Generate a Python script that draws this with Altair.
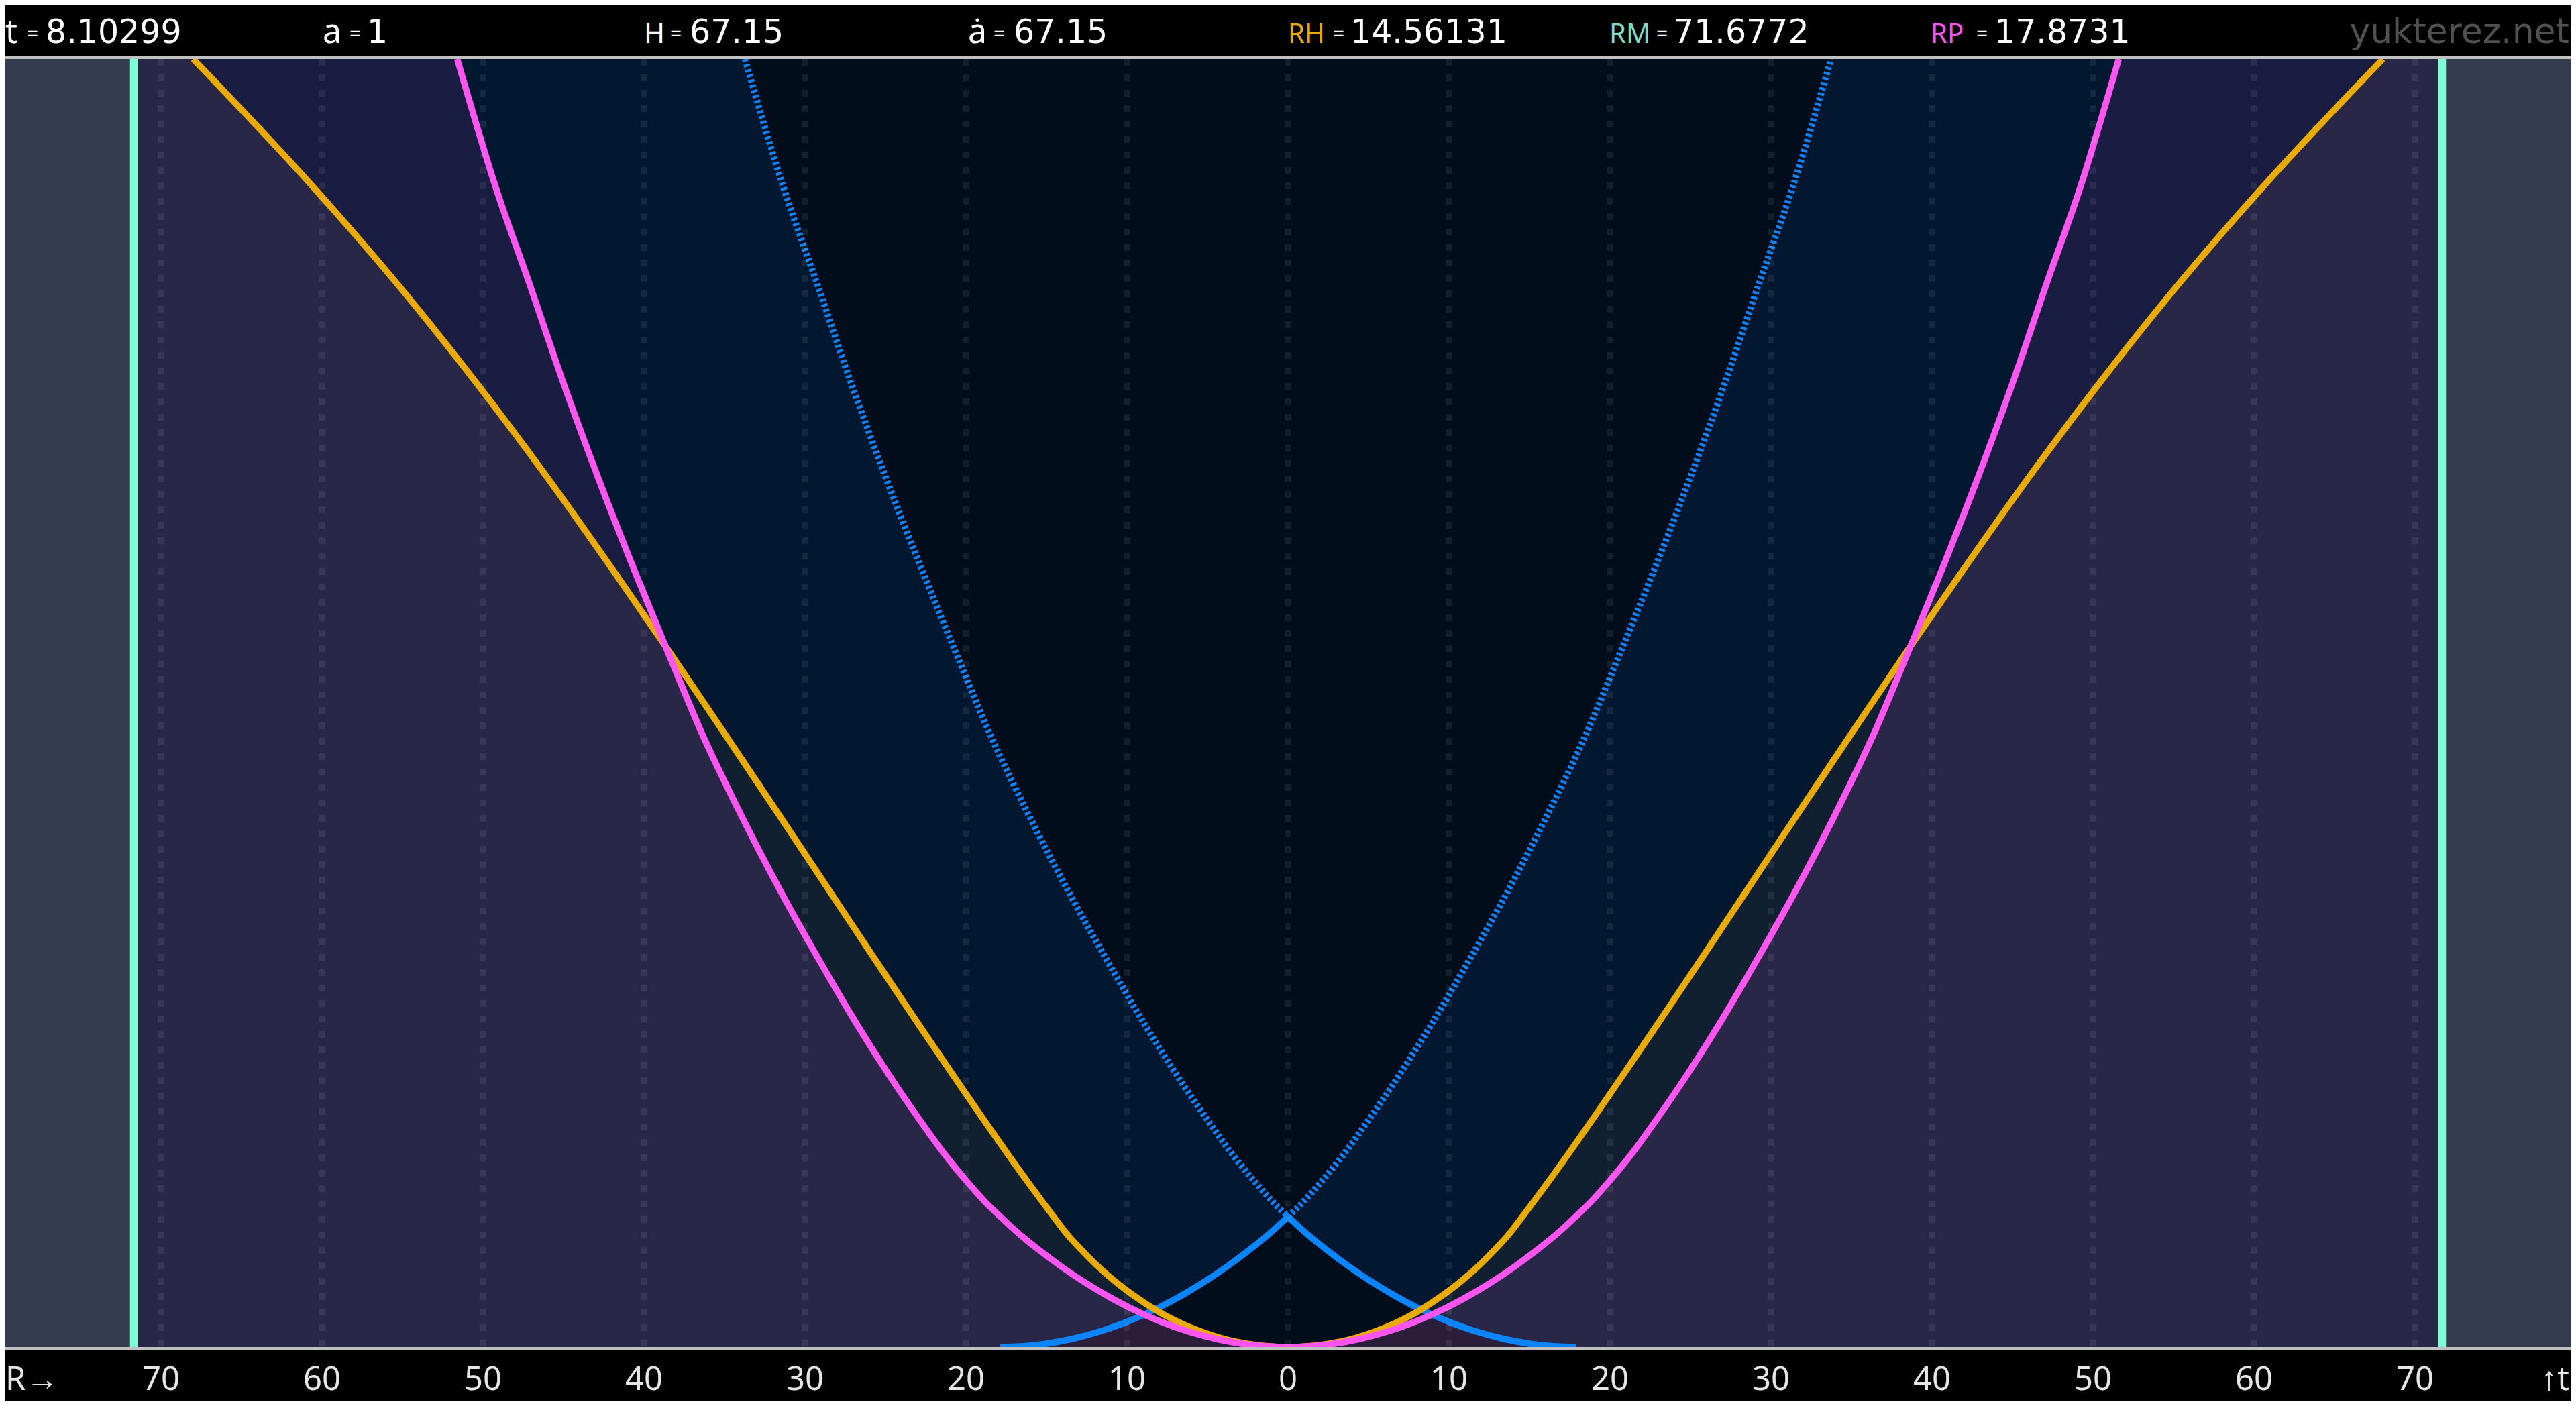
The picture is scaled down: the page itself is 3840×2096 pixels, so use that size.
import altair as alt
import pandas as pd

# ---------------- data ----------------
# time t (vertical) and comoving radii R (horizontal), same units on both axes
T = [0, 0.05, 0.2, 0.5, 1, 1.5, 2, 3, 4, 5, 6, 7, 8.1, 9, 10, 12, 14, 17, 20, 24,
     28, 33, 38, 43, 48, 54, 60, 66, 72, 80]
# particle horizon (magenta)
R_P = [0, 1.41, 2.82, 4.45, 6.3, 7.72, 8.91, 10.91, 12.6, 14.09, 15.43, 16.67, 17.87, 18.8, 19.7,
       21.35, 22.8, 24.85, 26.75, 29.1, 31.35, 33.95, 36.35, 38.45, 40.5, 42.85, 45.05, 47.1, 49.2, 51.6]
# Hubble radius (orange)
R_H = [0, 1.25, 2.5, 3.95, 5.5, 6.7, 7.7, 9.3, 10.65, 11.8, 12.8, 13.72, 14.56, 15.24, 15.98,
       17.42, 18.82, 20.88, 22.92, 25.6, 28.26, 31.58, 34.93, 38.3, 41.75, 46.0, 50.5, 55.3, 60.5, 68.0]
# light cone (blue): solid below t0, dotted above
R_L = [17.87, 16.46, 15.05, 13.42, 11.57, 10.15, 8.96, 6.96, 5.27, 3.78, 2.44, 1.2, 0, 0.93, 1.83,
       3.48, 4.93, 6.98, 8.88, 11.23, 13.48, 16.08, 18.48, 20.58, 22.63, 24.98, 27.18, 29.23, 31.33, 33.73]
T0 = 8.10299
R_M = 71.6772
TICK_VALUES = [-70, -60, -50, -40, -30, -20, -10, 0, 10, 20, 30, 40, 50, 60, 70]
GRID_VALUES = [-70, -60, -50, -40, -30, -20, -10, 0, 10, 20, 30, 40, 50, 60, 70]

LABEL_NAMES = ["t", "a", "H", "ȧ", "RH", "RM", "RP"]
LABEL_VALUES = ["8.10299", "1", "67.15", "67.15", "14.56131", "71.6772", "17.8731"]

# ---------------- layout / style ----------------
LABEL_COLORS = ["#ffffff", "#ffffff", "#ffffff", "#ffffff", "#eaab00", "#80dcc0", "#ff55ee"]
NAME_X = [4, 481, 960, 1443, 1920, 2399, 2878]
EQ_X = [40, 521, 999, 1481, 1987, 2469, 2946]
VAL_X = [68, 547, 1028, 1511, 2013, 2494, 2973]
NAME_SIZE = [50, 50, 42, 50, 40, 40, 40]
OFF = 8
W, H = 3824, 1920
FONT = "Noto Sans"
HEAD_FONT = "DejaVu Sans"
HEAD_Y = -24          # header baseline, relative to plot top
FOOT_Y = H + 64       # footer baseline, relative to plot top

XS = alt.Scale(domain=[-(1920 - OFF) / 24, (1920 - OFF) / 24], nice=False, zero=False)
YS = alt.Scale(domain=[0, 80], nice=False, zero=False)

C_SLATE = "#323c4e"
C_PURPLE = "#292747"
C_RED = "#2b1e3a"
C_NAVY = "#1a1d42"
C_TEAL = "#112030"
C_INNER = "#011830"
C_DARK = "#010d1a"
C_ORANGE = "#eaab00"
C_MAGENTA = "#ff55f0"
C_BLUE = "#0b84ff"
C_CYAN = "#7fffd4"
LW = 9.5

# ---------------- tables ----------------
adf = pd.DataFrame({"t": T, "rp": R_P, "rh": R_H, "rl": R_L})
adf["inner"] = adf[["rp", "rh"]].min(axis=1)
adf["dark"] = adf[["rp", "rh", "rl"]].min(axis=1)


def band(col, color, df):
    return alt.Chart(df).transform_calculate(lo=f"-datum.{col}").mark_area(
        orient="horizontal", interpolate="monotone", color=color, clip=True
    ).encode(
        y=alt.Y("t:Q", scale=YS, axis=None),
        x=alt.X("lo:Q", scale=XS, axis=None),
        x2=alt.X2(f"{col}:Q"),
    )


def full_path(r):
    rows = []
    n = len(T)
    for i in range(n - 1, 0, -1):
        rows.append({"x": -r[i], "t": T[i]})
    for i in range(n):
        rows.append({"x": r[i], "t": T[i]})
    return pd.DataFrame(rows)


def branches(r, cond):
    rows = []
    for i in range(len(T)):
        if cond(T[i]):
            rows.append({"x": -r[i], "t": T[i], "b": "L"})
            rows.append({"x": r[i], "t": T[i], "b": "R"})
    return pd.DataFrame(rows)


def line(df, color, dash=None, width=LW):
    kw = dict(interpolate="monotone", color=color, strokeWidth=width, clip=True)
    if dash:
        kw["strokeDash"] = dash
    enc = dict(x=alt.X("x:Q", scale=XS, axis=None), y=alt.Y("t:Q", scale=YS, axis=None))
    if "b" in df.columns:
        enc["detail"] = "b:N"
    return alt.Chart(df).mark_line(**kw).encode(**enc)


rect = alt.Chart(pd.DataFrame({"lo": [-R_M], "hi": [R_M], "t0": [0], "t1": [80]})).mark_rect(
    color=C_PURPLE).encode(
    x=alt.X("lo:Q", scale=XS, axis=None), x2="hi:Q",
    y=alt.Y("t0:Q", scale=YS, axis=None), y2="t1:Q")

layers = [
    rect,
    band("rl", C_RED, adf[adf.t <= T0]),
    band("rh", C_NAVY, adf),
    band("rp", C_TEAL, adf),
    band("inner", C_INNER, adf),
    band("dark", C_DARK, adf),
    line(branches(R_L, lambda t: t <= T0), C_BLUE),
    line(branches(R_L, lambda t: t >= 8.1), C_BLUE, dash=[4, 4]),
    line(full_path(R_H), C_ORANGE),
    line(full_path(R_P), C_MAGENTA),
]

grid = alt.Chart(pd.DataFrame({"g": GRID_VALUES})).mark_rule(
    color="white", opacity=0.07, strokeWidth=10, strokeDash=[10, 13]).encode(
    x=alt.X("g:Q", scale=XS, axis=None))
layers.append(grid)

cyan = alt.Chart(pd.DataFrame({"g": [-R_M, R_M]})).mark_rule(
    color=C_CYAN, strokeWidth=12).encode(x=alt.X("g:Q", scale=XS, axis=None))
layers.append(cyan)

one = pd.DataFrame({"k": [0]})
for yy in (-2, H + 2):
    layers.append(alt.Chart(one).mark_rule(color="#c0c0c0", strokeWidth=4).encode(
        x=alt.value(0), x2=alt.value(W), y=alt.value(yy)))

# bottom tick labels, placed through the x scale
ticks = pd.DataFrame({"v": TICK_VALUES})
layers.append(alt.Chart(ticks).transform_calculate(lab="'' + abs(datum.v)").mark_text(
    align="center", baseline="alphabetic", font=FONT, fontSize=49, color="#e6e6e6").encode(
    x=alt.X("v:Q", scale=XS, axis=None), y=alt.value(FOOT_Y), text="lab:N"))

# header
for i in range(len(LABEL_NAMES)):
    layers.append(alt.Chart(pd.DataFrame({"s": [LABEL_NAMES[i]]})).mark_text(
        align="left", baseline="alphabetic", font=FONT, fontSize=NAME_SIZE[i],
        color=LABEL_COLORS[i]).encode(
        x=alt.value(max(NAME_X[i] - OFF, 0)), y=alt.value(HEAD_Y), text="s:N"))
    layers.append(alt.Chart(pd.DataFrame({"s": ["="]})).mark_text(
        align="left", baseline="alphabetic", font=FONT, fontSize=30,
        color="#ffffff").encode(
        x=alt.value(EQ_X[i] - OFF), y=alt.value(HEAD_Y - 3), text="s:N"))
    layers.append(alt.Chart(pd.DataFrame({"s": [LABEL_VALUES[i]]})).mark_text(
        align="left", baseline="alphabetic", font=HEAD_FONT, fontSize=49,
        color="#ffffff").encode(
        x=alt.value(VAL_X[i] - OFF), y=alt.value(HEAD_Y), text="s:N"))

layers.append(alt.Chart(pd.DataFrame({"s": ["yukterez.net"]})).mark_text(
    align="right", baseline="alphabetic", font="DejaVu Sans", fontSize=52,
    color="#505050").encode(
    x=alt.value(W - 2), y=alt.value(HEAD_Y), text="s:N"))
layers.append(alt.Chart(pd.DataFrame({"s": ["R→"]})).mark_text(
    align="left", baseline="alphabetic", font=FONT, fontSize=49, color="#e6e6e6").encode(
    x=alt.value(0), y=alt.value(FOOT_Y), text="s:N"))
layers.append(alt.Chart(pd.DataFrame({"s": ["↑t"]})).mark_text(
    align="right", baseline="alphabetic", font=FONT, fontSize=49, color="#e6e6e6").encode(
    x=alt.value(W - 2), y=alt.value(FOOT_Y), text="s:N"))

chart = alt.layer(*layers).properties(
    width=W, height=H,
    padding={"left": 0, "right": 0, "top": 80, "bottom": 80},
    autosize=alt.AutoSizeParams(type="none"),
).configure(background="#000000").configure_view(fill=C_SLATE, strokeWidth=0)

chart.save("out.html", embed_options={"renderer": "svg", "actions": False})
